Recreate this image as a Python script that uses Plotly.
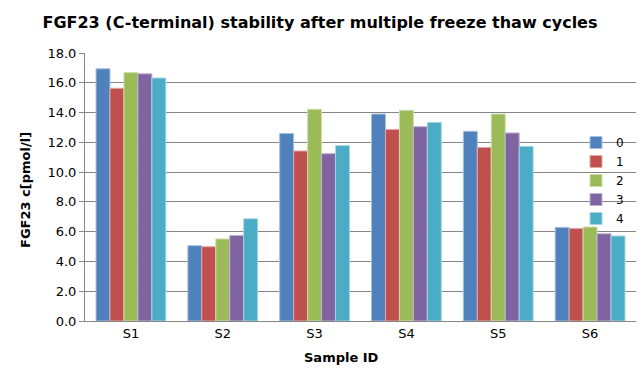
import plotly.graph_objects as go

categories = ["S1", "S2", "S3", "S4", "S5", "S6"]
series_names = ["0", "1", "2", "3", "4"]
cycle0 = [16.94, 5.06, 12.60, 13.90, 12.74, 6.29]
cycle1 = [15.63, 4.99, 11.42, 12.87, 11.66, 6.22]
cycle2 = [16.68, 5.51, 14.22, 14.15, 13.90, 6.31]
cycle3 = [16.60, 5.75, 11.24, 13.05, 12.63, 5.86]
cycle4 = [16.32, 6.87, 11.78, 13.34, 11.73, 5.71]
series_values = [cycle0, cycle1, cycle2, cycle3, cycle4]
y_ticks = [0, 2, 4, 6, 8, 10, 12, 14, 16, 18]

colors = ["#4F81BD", "#C0504D", "#9BBB59", "#8064A2", "#4BACC6"]
edge = ["#A7C0DE", "#E0A8A6", "#CDDDAC", "#BFB1D0", "#A5D5E2"]

fig = go.Figure()
for name, vals, c, e in zip(series_names, series_values, colors, edge):
    fig.add_trace(go.Bar(x=categories, y=vals, name=name,
                         marker=dict(color=c, line=dict(color=e, width=1))))

W, H = 642, 382
ML, MR, MT, MB = 85, 6, 53, 61
PW, PH = W - ML - MR, H - MT - MB

font = "DejaVu Sans, Verdana, sans-serif"
fig.update_layout(
    width=W, height=H,
    margin=dict(l=ML, r=MR, t=MT, b=MB, autoexpand=False),
    paper_bgcolor="white", plot_bgcolor="white",
    font=dict(family=font, size=12, color="black"),
    barmode="group", bargap=0.24, bargroupgap=0,
    title=dict(text="<b>FGF23 (C-terminal) stability after multiple freeze thaw cycles</b>",
               x=320 / W, xref="container", xanchor="center",
               y=1 - 22 / H, yref="container", yanchor="middle",
               font=dict(size=16, family=font, color="black")),
    legend=dict(x=(576 - ML) / PW, y=(H - MB - 128) / PH, xanchor="left", yanchor="top",
                bgcolor="rgba(0,0,0,0)", font=dict(size=12),
                itemwidth=30, tracegroupgap=0),
    showlegend=True,
)
fig.update_yaxes(range=[0, 18], tickvals=y_ticks,
                 ticktext=[f"{v:.1f}" for v in y_ticks],
                 showgrid=True, gridcolor="#868686", gridwidth=1,
                 showline=True, linecolor="#868686", linewidth=1,
                 ticks="outside", ticklen=5, tickcolor="#868686",
                 tickfont=dict(size=13), zeroline=False)
fig.update_xaxes(showline=True, linecolor="#868686", linewidth=1,
                 ticks="", tickfont=dict(size=13))
fig.add_annotation(text="<b>Sample ID</b>", x=(341 - ML) / PW, y=(H - MB - 357) / PH,
                   xref="paper", yref="paper", showarrow=False, yanchor="middle",
                   font=dict(size=13, family=font))
fig.add_annotation(text="<b>FGF23 c[pmol/l]</b>", x=(25 - ML) / PW, y=(H - MB - 190) / PH,
                   xref="paper", yref="paper", showarrow=False, textangle=-90,
                   xanchor="center", yanchor="middle",
                   font=dict(size=13, family=font))
fig.write_html("out.html", config={"displayModeBar": False},
               post_script="document.body.style.margin='0';document.body.style.overflow='hidden';")
